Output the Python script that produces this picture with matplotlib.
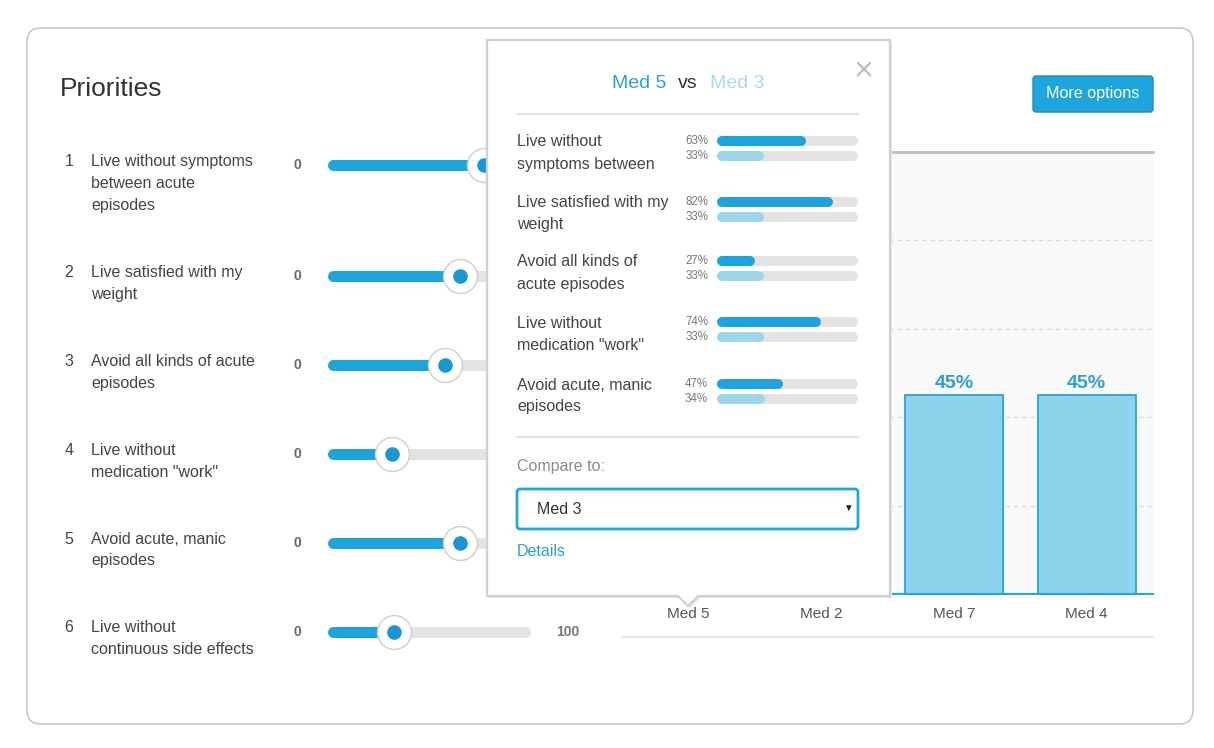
import matplotlib
matplotlib.use("Agg")
import matplotlib.pyplot as plt
from matplotlib.patches import FancyBboxPatch, Polygon

plt.rcParams['font.family'] = ['Liberation Sans', 'DejaVu Sans']

W, H = 1214, 748

# priorities list with slider settings (0-100)
priority_labels = [
    "Live without symptoms\nbetween acute\nepisodes",
    "Live satisfied with my\nweight",
    "Avoid all kinds of acute\nepisodes",
    "Live without\nmedication \"work\"",
    "Avoid acute, manic\nepisodes",
    "Live without\ncontinuous side effects",
]
slider_values = [77, 65, 58, 32, 65, 33]

# bar chart (Med 5 and Med 2 sit behind the popup)
meds = ["Med 5", "Med 2", "Med 7", "Med 4"]
med_scores = [52, 47, 45, 45]

# popup comparison
compare_labels = [
    "Live without\nsymptoms between",
    "Live satisfied with my\nweight",
    "Avoid all kinds of\nacute episodes",
    "Live without\nmedication \"work\"",
    "Avoid acute, manic\nepisodes",
]
med5_pct = [63, 82, 27, 74, 47]
med3_pct = [33, 33, 33, 33, 34]

BLUE = '#1ea3dc'
LIGHT = '#9dd6ea'
TRACK = '#e3e3e3'
POPUP_LEFT = 487


def fig_box(x0, y0, x1, y1):
    return [x0 / W, 1 - y1 / H, (x1 - x0) / W, (y1 - y0) / H]


def px_axes(fig, x0, y0, x1, y1, z):
    a = fig.add_axes(fig_box(x0, y0, x1, y1), zorder=z)
    a.set_xlim(x0, x1)
    a.set_ylim(y1, y0)
    a.axis('off')
    a.patch.set_visible(False)
    return a


fig = plt.figure(figsize=(W / 100, H / 100), dpi=100)
base = px_axes(fig, 0, 0, W, H, 0)

# card
base.add_patch(FancyBboxPatch((27, 28), 1166, 696, boxstyle='round,pad=0,rounding_size=14',
                              fc='white', ec='#c9c9c9', lw=1.2))
base.text(60, 89, "Priorities", fontsize=19, color='#333333', va='center')

# more options button
base.add_patch(FancyBboxPatch((1033, 76), 120, 36, boxstyle='round,pad=0,rounding_size=3',
                              fc='#1ea5dd', ec='#1a8dc0', lw=1))
base.text(1093, 93, "More options", fontsize=11.6, color='white', ha='center', va='center')

# priority rows
text_y = [161, 272, 361, 450, 539, 628]
for i, (lab, val, ty) in enumerate(zip(priority_labels, slider_values, text_y)):
    base.text(69, ty, str(i + 1), fontsize=11.5, color='#444444', ha='center', va='center')
    for k, line in enumerate(lab.split('\n')):
        base.text(91, ty + k * 22, line, fontsize=11.5, color='#444444', va='center')
    sy = ty + 4
    base.text(297, sy, "0", fontsize=10, color='#666666', ha='center', va='center', fontweight='bold')
    # the "100" end label is only visible where the popup does not cover it
    if i == len(priority_labels) - 1:
        base.text(568, sy, "100", fontsize=10, color='#777777', ha='center', va='center',
                  fontweight='bold')

    s = fig.add_axes(fig_box(327, sy - 20, 531, sy + 20), zorder=1)
    s.set_xlim(0, 100)
    s.set_ylim(-1, 1)
    s.axis('off')
    s.patch.set_visible(False)
    r = 2.7
    s.plot([r, 100 - r], [0, 0], lw=7.9, color=TRACK, solid_capstyle='round')
    s.plot([r, val], [0, 0], lw=7.9, color=BLUE, solid_capstyle='round')
    s.scatter([val], [0], s=600, color='#d0d0d0', zorder=3, clip_on=False)
    s.scatter([val], [0], s=500, color='white', zorder=4, clip_on=False)
    s.scatter([val], [0], s=90, color='#1a96d2', zorder=5, clip_on=False)

base.plot([622, 1153], [637, 637], color='#e2e2e2', lw=1.2)

# bar chart
cax = fig.add_axes(fig_box(622, 152, 1153, 594), zorder=2)
cax.set_facecolor('#f9f9f9')
cax.set_xlim(-0.5, 3.5)
cax.set_ylim(0, 100)
for g in [20, 40, 60, 80]:
    cax.axhline(g, color='#d9d9d9', lw=1, dashes=(3, 3), zorder=1)
x = list(range(len(meds)))
cax.bar(x, med_scores, width=0.74, color='#8dd3ec', edgecolor='#2aa3d9', lw=1.3, zorder=2)
for xi, v in zip(x, med_scores):
    if xi >= 2:  # labels of Med 5 / Med 2 lie behind the popup
        cax.text(xi, v + 0.8, f"{v}%", ha='center', va='bottom', fontsize=14,
                 fontweight='bold', color='#2a9fd6')
cax.set_xticks(x)
cax.set_xticklabels(meds, fontsize=11, color='#555555')
cax.set_yticks([])
cax.tick_params(axis='x', length=0, pad=9)
for sp in ['left', 'right']:
    cax.spines[sp].set_visible(False)
cax.spines['top'].set_color('#bdbdbd')
cax.spines['top'].set_linewidth(2)
cax.spines['bottom'].set_color('#2aa3d9')
cax.spines['bottom'].set_linewidth(1.5)

# popup
pop = px_axes(fig, 477, 30, 900, 615, 5)
outline = [(487, 40), (890, 40), (890, 596), (698, 596), (688, 606), (678, 596), (487, 596)]
pop.add_patch(Polygon([(px + 2, py + 2) for px, py in outline], closed=True,
                      fc='#e6e6e6', ec='none'))
pop.add_patch(Polygon(outline, closed=True, fc='white', ec='#d0d0d0', lw=1.6))

pop.text(666, 84, "Med 5", ha='right', va='center', fontsize=14, color='#2a9fd6')
pop.text(688, 84, "vs", ha='center', va='center', fontsize=14, color='#333333')
pop.text(710, 84, "Med 3", ha='left', va='center', fontsize=14, color='#a6daef')
pop.plot([858, 870], [63, 75], color='#bbbbbb', lw=1.6)
pop.plot([858, 870], [75, 63], color='#bbbbbb', lw=1.6)
pop.plot([517, 858], [114, 114], color='#e2e2e2', lw=1.5)

row_y = [141, 202, 261, 322, 384]
for lab, a, b, y in zip(compare_labels, med5_pct, med3_pct, row_y):
    for k, line in enumerate(lab.split('\n')):
        pop.text(517, y + 1 + k * 22, line, fontsize=11.5, color='#444444', va='center')
    pop.text(708, y, f"{a}%", ha='right', va='center', fontsize=8.3, color='#777777')
    pop.text(708, y + 15, f"{b}%", ha='right', va='center', fontsize=8.3, color='#777777')

    bx = fig.add_axes(fig_box(717, y - 8, 858, y + 23), zorder=6)
    bx.set_xlim(0, 100)
    bx.set_ylim(y + 23, y - 8)
    bx.axis('off')
    bx.patch.set_visible(False)
    r = 3.55
    for yy, v, c in [(y, a, BLUE), (y + 15, b, LIGHT)]:
        bx.plot([r, 100 - r], [yy, yy], lw=7.2, color=TRACK, solid_capstyle='round')
        bx.plot([r, v - r], [yy, yy], lw=7.2, color=c, solid_capstyle='round')

pop.plot([517, 858], [437, 437], color='#e2e2e2', lw=1.5)
pop.text(517, 466, "Compare to:", fontsize=11.5, color='#8a8a8a', va='center')
pop.add_patch(FancyBboxPatch((517, 489), 341, 40, boxstyle='round,pad=0,rounding_size=3',
                             fc='white', ec='#29a3d8', lw=2))
pop.text(537, 509, "Med 3", fontsize=11.5, color='#333333', va='center')
pop.text(848, 508, "\u25bc", fontsize=7, color='#222222', ha='center', va='center')
pop.text(517, 551, "Details", fontsize=11.5, color='#2a9fd6', va='center')

fig.savefig("out.png", dpi=100)
